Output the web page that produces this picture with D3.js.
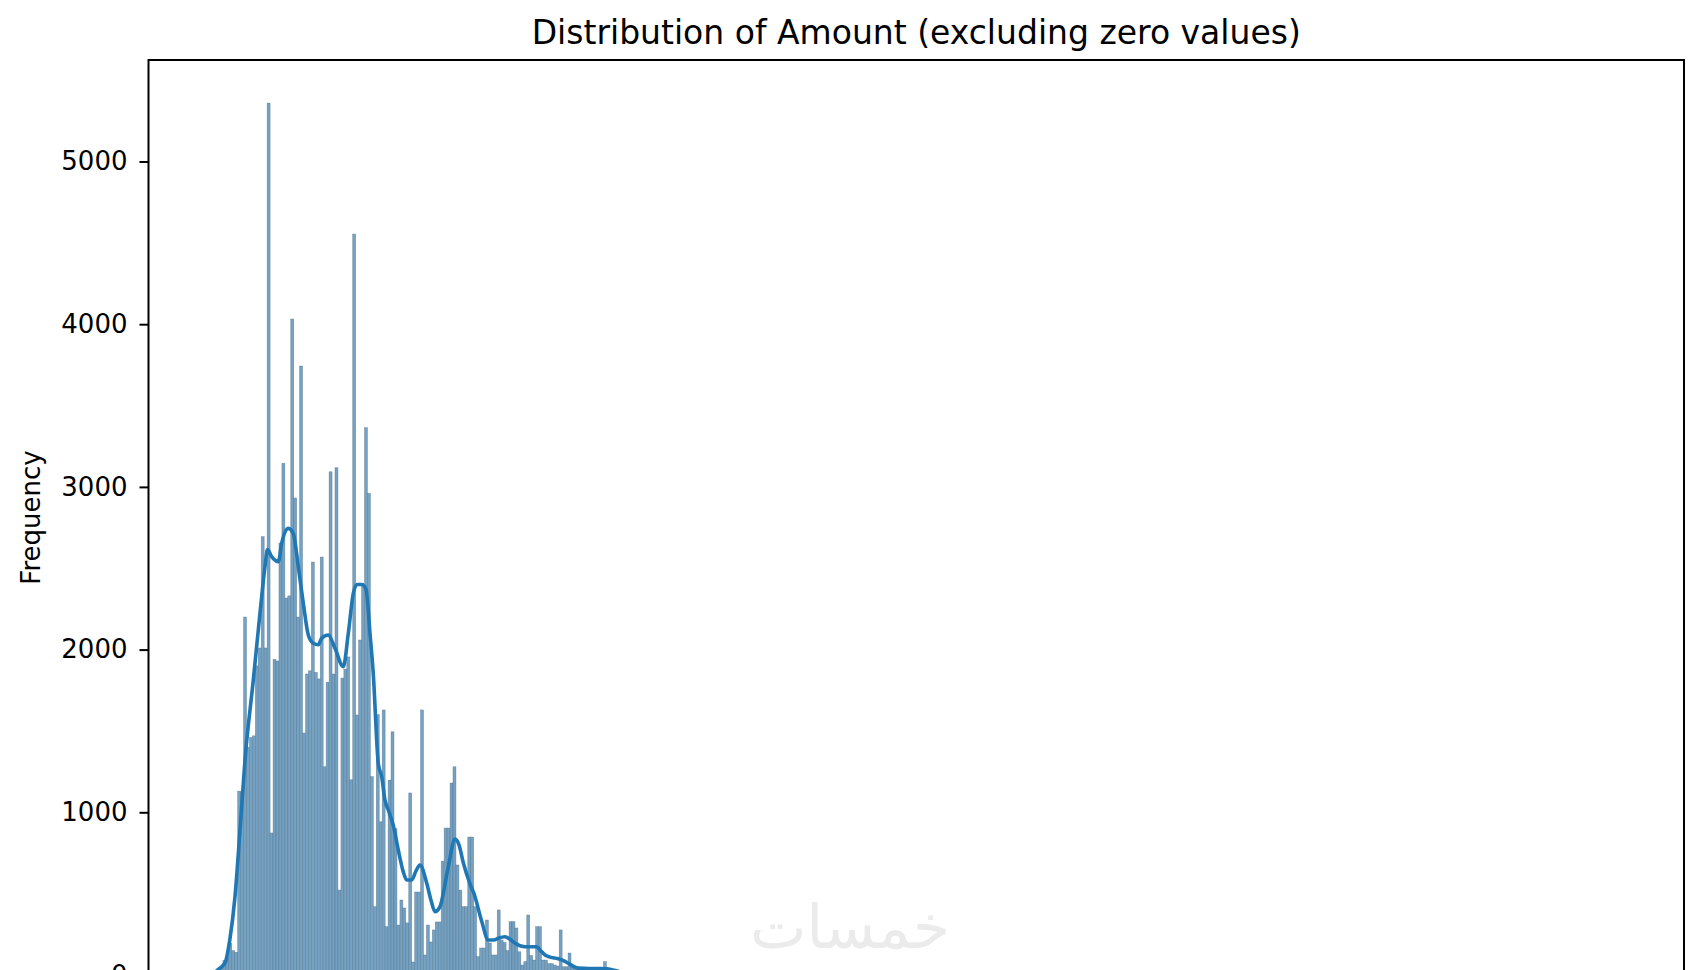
<!DOCTYPE html>
<html>
<head>
<meta charset="utf-8">
<script src="https://cdn.jsdelivr.net/npm/d3@7/dist/d3.min.js"></script>
<style>
html, body { margin: 0; padding: 0; background: #fff; overflow: hidden; }
svg { display: block; }
</style>
</head>
<body>
<div id="chart"></div>
<script>
// ---------- data ----------
const title = "Distribution of Amount (excluding zero values)";
const yLabel = "Frequency";
const yTicks = [0, 1000, 2000, 3000, 4000, 5000];
// histogram counts per bin (bin index = position along Amount axis)
const binCounts = [
  20, 45, 90, 110, 195, 150, 140, 1130, 1125, 2200,
  1400, 1460, 1470, 1900, 2010, 2694, 2010, 5359, 873, 1940,
  1930, 2655, 3145, 2317, 2330, 4032, 2932, 2200, 3743, 1487,
  1850, 1870, 2538, 1860, 1820, 2569, 1280, 1800, 3093, 1850,
  3118, 522, 1825, 1880, 1955, 1200, 4554, 1598, 2059, 2387,
  3364, 2960, 1219, 420, 1600, 942, 1629, 297, 1198, 1495,
  900, 307, 461, 412, 320, 1119, 80, 510, 510, 1629,
  123, 307, 203, 277, 326, 326, 700, 903, 903, 1180,
  1280, 676, 522, 420, 420, 848, 848, 420, 113, 166,
  166, 338, 197, 123, 123, 400, 215, 200, 150, 328,
  328, 289, 143, 61, 82, 369, 120, 92, 297, 297,
  92, 92, 70, 70, 61, 55, 277, 51, 51, 135,
  55, 50, 48, 45, 42, 40, 38, 38, 36, 35,
  34, 82, 30, 25, 20, 15, 12, 10, 8, 6, 5
];
// x-axis extent of the data in bin units (data span incl. sparse right tail)
const xDomain = [-23.22, 497.29];
// KDE curve: positions (bin units) and values (count units)
const kdeX = [-1.02, 0.44, 2.71, 4.41, 6.10, 7.80, 9.49, 12.31, 14.58, 16.27,
  17.12, 18.54, 20.78, 21.93, 24.17, 25.86, 27.56, 29.25, 30.95, 32.64,
  34.34, 35.49, 37.73, 40.00, 42.81, 44.51, 46.20, 47.46, 49.15, 50.51,
  51.86, 52.98, 54.68, 55.83, 56.95, 58.07, 59.76, 61.46, 63.05, 64.31,
  66.0, 67.46, 68.81, 71.08, 72.54, 73.90, 75.59, 78.41, 80.68, 82.03,
  83.49, 85.76, 87.12, 89.73, 91.97, 93.90, 95.36, 97.63, 99.32, 101.02,
  104.41, 108.37, 109.49, 111.19, 112.88, 115.69, 117.29, 119.08, 120.68, 122.47,
  126.44, 129.83, 132.10, 134.34, 136.61, 143.39, 163.73, 197.6, 265.4, 367, 468.8];
const kdeY = [10, 35, 74, 225, 481, 891, 1321, 1813, 2225, 2510,
  2615, 2571, 2540, 2653, 2745, 2714, 2510, 2285, 2090, 2039,
  2030, 2070, 2090, 2008, 1895, 2100, 2346, 2400, 2400, 2370,
  2100, 1850, 1300, 1219, 1075, 1014, 920, 768, 640, 584,
  584, 640, 676, 565, 460, 389, 420, 666, 835, 800,
  690, 560, 500, 330, 215, 215, 226, 235, 220, 195,
  174, 174, 154, 123, 110, 100, 90, 72, 55, 42,
  40, 40, 38, 30, 20, 12, 6, 3, 2, 1, 0.5];

// ---------- layout ----------
const W = 1700, H = 1100;
const plot = { left: 148.5, right: 1684, top: 60, bottom: 975 };

const svg = d3.select("#chart").append("svg")
  .attr("width", W).attr("height", H);

const x = d3.scaleLinear().domain(xDomain).range([plot.left, plot.right]);
const y = d3.scaleLinear().domain([0, 5000 * (plot.bottom - plot.top) / (plot.bottom - 161.5)])
  .range([plot.bottom, plot.top]);

// bars
svg.append("g").selectAll("rect").data(binCounts).join("rect")
  .attr("x", (d, i) => x(i))
  .attr("width", (d, i) => x(i + 1) - x(i))
  .attr("y", d => y(d))
  .attr("height", d => y(0) - y(d))
  .attr("fill", "rgb(117,162,194)")
  .attr("stroke", "rgb(70,100,125)")
  .attr("stroke-opacity", 0.55)
  .attr("stroke-width", 0.6);

// KDE
const kdePts = kdeX.map((v, i) => [v, kdeY[i]]);
svg.append("path")
  .datum(kdePts)
  .attr("d", d3.line().x(d => x(d[0])).y(d => y(d[1])).curve(d3.curveMonotoneX))
  .attr("fill", "none")
  .attr("stroke", "#1f77b4")
  .attr("stroke-width", 3.6)
  .attr("stroke-linejoin", "round");

// axes frame
svg.append("rect")
  .attr("x", plot.left).attr("y", plot.top)
  .attr("width", plot.right - plot.left).attr("height", plot.bottom - plot.top)
  .attr("fill", "none").attr("stroke", "#000").attr("stroke-width", 2);

// y axis
const yAxis = d3.axisLeft(y).tickValues(yTicks).tickSize(9).tickPadding(12).tickFormat(d3.format("d"));
const gy = svg.append("g").attr("transform", `translate(${plot.left},0)`).call(yAxis);
gy.select(".domain").remove();
gy.selectAll(".tick line").attr("stroke", "#000").attr("stroke-width", 2);
gy.selectAll(".tick text")
  .attr("font-family", "DejaVu Sans, sans-serif")
  .attr("font-size", 26).attr("fill", "#000");

// y label
svg.append("text")
  .attr("transform", `translate(40, ${(plot.top + plot.bottom) / 2}) rotate(-90)`)
  .attr("text-anchor", "middle")
  .attr("font-family", "DejaVu Sans, sans-serif")
  .attr("font-size", 26).attr("fill", "#000")
  .text(yLabel);

// title
svg.append("text")
  .attr("x", (plot.left + plot.right) / 2).attr("y", 44)
  .attr("text-anchor", "middle")
  .attr("font-family", "DejaVu Sans, sans-serif")
  .attr("font-size", 33).attr("fill", "#000")
  .text(title);

// watermark
svg.append("text")
  .attr("x", 850).attr("y", 948)
  .attr("text-anchor", "middle")
  .attr("font-family", "DejaVu Sans, sans-serif")
  .attr("font-size", 60).attr("fill", "#ebebeb")
  .text("خمسات");
</script>
</body>
</html>
